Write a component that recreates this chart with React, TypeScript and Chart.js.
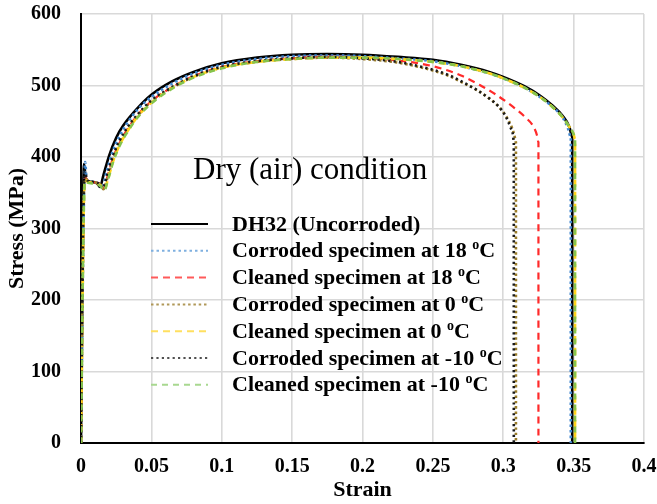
import { useEffect, useRef } from "react";
import { Chart, registerables } from "chart.js";

Chart.register(...registerables);

const FONT = "'Liberation Serif', 'Times New Roman', Times, serif";

const chartTitle = "Dry (air) condition";
const xTitle = "Strain";
const yTitle = "Stress (MPa)";

const seriesNames = [
  "DH32 (Uncorroded)",
  "Corroded specimen at 18 oC",
  "Cleaned specimen at 18 oC",
  "Corroded specimen at 0 oC",
  "Cleaned specimen at 0 oC",
  "Corroded specimen at -10 oC",
  "Cleaned specimen at -10 oC",
];

const strainDH32 = [0, 0.0012, 0.0022, 0.0035, 0.006, 0.009, 0.0115, 0.0135, 0.016, 0.02, 0.025, 0.03, 0.04, 0.05, 0.065, 0.08, 0.1, 0.125, 0.15, 0.175, 0.2, 0.225, 0.25, 0.27, 0.29, 0.3, 0.315, 0.326, 0.335, 0.342, 0.347, 0.349, 0.349];
const stressDH32 = [0, 300, 390, 368, 366, 365, 363, 358, 375, 402, 427, 444, 468, 487, 506, 519, 531, 539, 543, 544, 543, 540, 536, 529, 519, 512, 499, 486, 472, 458, 442, 428, 0];

const strainCorr18 = [0, 0.002, 0.003, 0.004, 0.007, 0.01, 0.013, 0.015, 0.018, 0.022, 0.027, 0.032, 0.04, 0.05, 0.065, 0.08, 0.1, 0.125, 0.15, 0.175, 0.2, 0.225, 0.25, 0.27, 0.29, 0.3, 0.315, 0.326, 0.335, 0.342, 0.346, 0.348, 0.348];
const stressCorr18 = [0, 330, 393, 368, 366, 365, 362, 357, 378, 405, 428, 445, 466, 484, 503, 517, 529, 537, 541, 542, 541, 538, 534, 527, 517, 510, 497, 484, 470, 456, 440, 428, 0];

const strainClean18 = [0, 0.002, 0.003, 0.005, 0.008, 0.011, 0.014, 0.016, 0.019, 0.023, 0.028, 0.033, 0.04, 0.05, 0.065, 0.08, 0.1, 0.125, 0.15, 0.175, 0.2, 0.225, 0.25, 0.27, 0.283, 0.295, 0.307, 0.316, 0.321, 0.324, 0.325, 0.325];
const stressClean18 = [0, 340, 372, 366, 365, 364, 362, 356, 374, 400, 422, 439, 458, 478, 498, 513, 526, 534, 538, 540, 539, 535, 527, 514, 501, 487, 470, 455, 444, 430, 420, 0];

const strainCorr0 = [0, 0.002, 0.003, 0.005, 0.008, 0.011, 0.014, 0.016, 0.019, 0.023, 0.028, 0.033, 0.04, 0.05, 0.065, 0.08, 0.1, 0.125, 0.15, 0.175, 0.2, 0.225, 0.25, 0.262, 0.271, 0.281, 0.29, 0.297, 0.302, 0.306, 0.308, 0.309, 0.309];
const stressCorr0 = [0, 340, 370, 366, 365, 364, 361, 355, 372, 398, 421, 438, 457, 477, 497, 512, 525, 533, 537, 539, 537, 532, 521, 513, 504, 494, 482, 470, 457, 442, 430, 420, 0];

const strainClean0 = [0, 0.002, 0.003, 0.005, 0.008, 0.011, 0.014, 0.0165, 0.019, 0.023, 0.028, 0.033, 0.04, 0.05, 0.065, 0.08, 0.1, 0.125, 0.15, 0.175, 0.2, 0.225, 0.25, 0.27, 0.29, 0.3, 0.315, 0.326, 0.335, 0.342, 0.347, 0.35, 0.351, 0.351];
const stressClean0 = [0, 330, 368, 365, 364, 363, 360, 354, 368, 395, 419, 436, 456, 476, 497, 512, 525, 533, 537, 539, 539, 537, 533, 527, 517, 510, 497, 484, 470, 456, 442, 432, 425, 0];

const strainCorrM10 = [0, 0.0018, 0.0028, 0.0045, 0.008, 0.011, 0.0135, 0.0155, 0.0185, 0.0225, 0.0275, 0.0325, 0.04, 0.05, 0.065, 0.08, 0.1, 0.125, 0.15, 0.175, 0.2, 0.225, 0.25, 0.262, 0.271, 0.281, 0.29, 0.297, 0.302, 0.305, 0.307, 0.3075, 0.3075];
const stressCorrM10 = [0, 340, 380, 367, 365, 364, 362, 356, 374, 400, 423, 440, 459, 479, 498, 513, 526, 534, 538, 540, 538, 533, 522, 514, 505, 494, 482, 470, 456, 442, 430, 420, 0];

const strainCleanM10 = [0, 0.002, 0.003, 0.005, 0.008, 0.011, 0.014, 0.0165, 0.019, 0.023, 0.028, 0.033, 0.04, 0.05, 0.065, 0.08, 0.1, 0.125, 0.15, 0.175, 0.2, 0.225, 0.25, 0.27, 0.29, 0.3, 0.315, 0.326, 0.335, 0.342, 0.347, 0.35, 0.351, 0.351];
const stressCleanM10 = [0, 330, 366, 364, 363, 362, 359, 353, 367, 394, 418, 435, 455, 475, 496, 511, 524, 533, 537, 539, 539, 537, 533, 527, 517, 510, 497, 484, 470, 456, 442, 432, 425, 0];

const xTicks = [0, 0.05, 0.1, 0.15, 0.2, 0.25, 0.3, 0.35, 0.4];
const yTicks = [0, 100, 200, 300, 400, 500, 600];

const seriesStrain = [strainDH32, strainCorr18, strainClean18, strainCorr0, strainClean0, strainCorrM10, strainCleanM10];
const seriesStress = [stressDH32, stressCorr18, stressClean18, stressCorr0, stressClean0, stressCorrM10, stressCleanM10];

const styles = [
  { color: "#000000", dash: [] as number[], width: 2.6, legendColor: "#000000" },
  { color: "#3F86CF", dash: [2.5, 3], width: 2.6, legendColor: "#7FB0E0" },
  { color: "#FF2A2A", dash: [7, 5], width: 2.2, legendColor: "#FF5A5A" },
  { color: "#9C7E2A", dash: [2.5, 2.8], width: 2.6, legendColor: "#B09858" },
  { color: "#FFD21A", dash: [7, 5], width: 2.6, legendColor: "#FFE060" },
  { color: "#1A1A1A", dash: [2.2, 3.2], width: 2.6, legendColor: "#505050" },
  { color: "#86C44C", dash: [6, 5], width: 2.6, legendColor: "#A8D890" },
];

const overlayPlugin = {
  id: "overlay",
  afterDatasetsDraw(chart: any) {
    const ctx: CanvasRenderingContext2D = chart.ctx;
    ctx.save();
    ctx.fillStyle = "#000";
    ctx.font = `31px ${FONT}`;
    ctx.textBaseline = "alphabetic";
    ctx.textAlign = "left";
    ctx.fillText(chartTitle, 193, 179);

    chart.data.datasets.forEach((ds: any, i: number) => {
      const y = 224 + i * 26.8;
      const st = styles[i];
      ctx.beginPath();
      ctx.strokeStyle = st.legendColor;
      ctx.lineWidth = 2;
      ctx.setLineDash(st.dash);
      ctx.moveTo(151, y);
      ctx.lineTo(208, y);
      ctx.stroke();
      ctx.setLineDash([]);
      ctx.fillStyle = "#000";
      ctx.textBaseline = "middle";
      const label: string = ds.label;
      const bigFont = `bold 22px ${FONT}`;
      const supFont = `bold 14px ${FONT}`;
      let x = 232;
      if (label.endsWith(" oC")) {
        const main = label.slice(0, -2);
        ctx.font = bigFont;
        ctx.fillText(main, x, y + 1);
        x += ctx.measureText(main).width;
        ctx.font = supFont;
        ctx.fillText("o", x, y - 5);
        x += ctx.measureText("o").width;
        ctx.font = bigFont;
        ctx.fillText("C", x, y + 1);
      } else {
        ctx.font = bigFont;
        ctx.fillText(label, x, y + 1);
      }
    });
    ctx.restore();
  },
};

export default function App() {
  const ref = useRef<HTMLCanvasElement>(null);
  useEffect(() => {
    const datasets = seriesNames.map((name, i) => ({
      label: name,
      data: seriesStrain[i].map((x, k) => ({ x, y: seriesStress[i][k] })),
      borderColor: styles[i].color,
      backgroundColor: styles[i].color,
      borderDash: styles[i].dash,
      borderWidth: styles[i].width,
      pointRadius: 0,
      fill: false,
      cubicInterpolationMode: "monotone" as const,
      order: 10 - i,
    }));
    const chart = new Chart(ref.current!, {
      type: "line",
      data: { datasets },
      options: {
        animation: false,
        responsive: false,
        devicePixelRatio: 1,
        layout: { padding: { top: 14, right: 13, left: 0, bottom: 0 } },
        plugins: {
          legend: { display: false },
          tooltip: { enabled: false },
          title: { display: false },
        },
        scales: {
          x: {
            type: "linear",
            min: 0,
            max: 0.4,
            afterBuildTicks: (s: any) => {
              s.ticks = xTicks.map((v) => ({ value: v }));
            },
            afterFit: (s: any) => {
              s.height = 61;
              s.paddingLeft = 0;
              s.paddingRight = 0;
              s.paddingTop = 0;
              s.paddingBottom = 0;
            },
            ticks: {
              color: "#000",
              font: { family: FONT, size: 20, weight: "bold" },
              padding: 12,
              maxRotation: 0,
              autoSkip: false,
              callback: (v: any) => String(Number(Number(v).toFixed(2))),
            },
            grid: { color: "#D9D9D9", lineWidth: 1.6, drawTicks: false },
            border: { display: true, color: "#000", width: 2 },
            title: {
              display: true,
              text: xTitle,
              color: "#000",
              font: { family: FONT, size: 22, weight: "bold" },
              padding: { top: 0, bottom: 0 },
            },
          },
          y: {
            type: "linear",
            min: 0,
            max: 600,
            afterBuildTicks: (s: any) => {
              s.ticks = yTicks.map((v) => ({ value: v }));
            },
            afterFit: (s: any) => {
              s.width = 81;
              s.paddingLeft = 0;
              s.paddingRight = 0;
              s.paddingTop = 0;
              s.paddingBottom = 0;
            },
            ticks: {
              color: "#000",
              font: { family: FONT, size: 20, weight: "bold" },
              padding: 20,
              autoSkip: false,
            },
            grid: { color: "#D9D9D9", lineWidth: 1.6, drawTicks: false },
            border: { display: true, color: "#000", width: 2 },
            title: {
              display: true,
              text: yTitle,
              color: "#000",
              font: { family: FONT, size: 22, weight: "bold" },
              padding: { top: 4, bottom: 0 },
            },
          },
        },
      },
      plugins: [overlayPlugin],
    });
    return () => chart.destroy();
  }, []);
  return (
    <div style={{ position: "fixed", left: 0, top: 0, width: 657, height: 504, background: "#fff" }}>
      <canvas ref={ref} width={657} height={504} style={{ width: 657, height: 504, display: "block" }} />
    </div>
  );
}
